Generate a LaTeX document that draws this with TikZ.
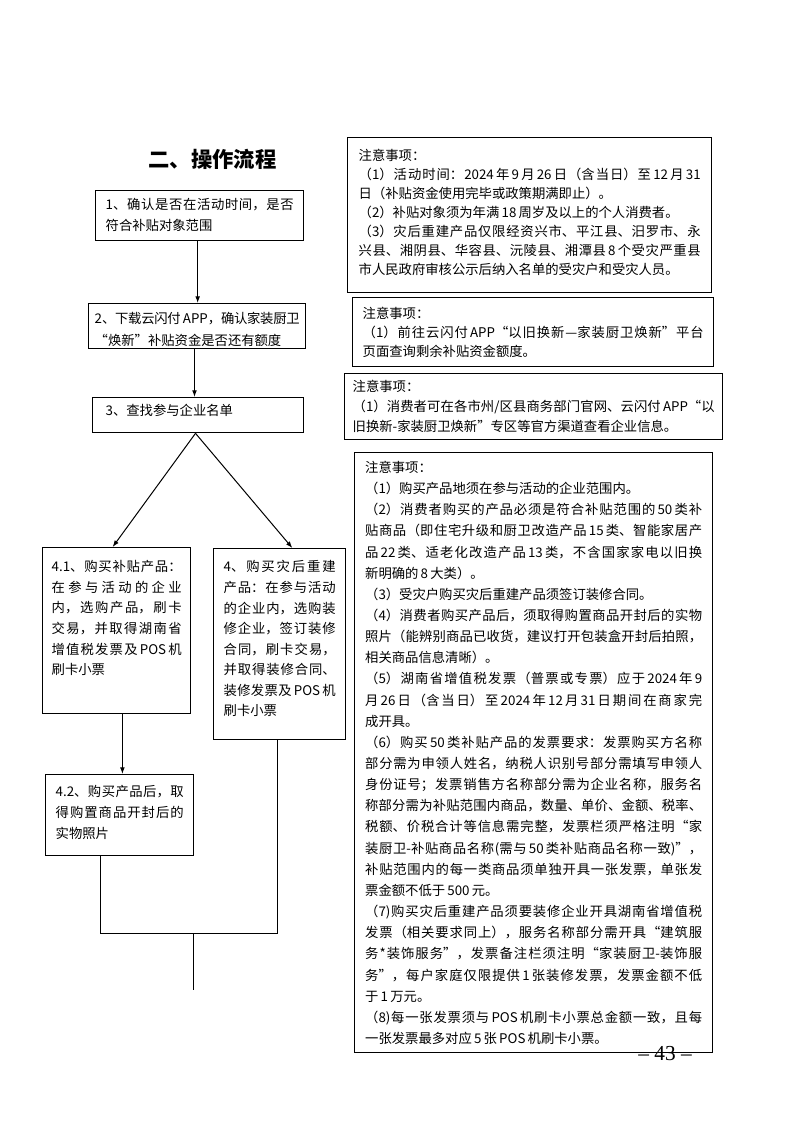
\documentclass[tikz,border=0pt]{standalone}
\usepackage{fontspec}
\setmainfont{Noto Sans CJK SC}
\newfontfamily\pnfont{Liberation Serif}
\usetikzlibrary{arrows.meta}
\XeTeXlinebreaklocale "zh"
\XeTeXlinebreakskip=0pt plus 3pt minus 0.6pt
\tolerance=9999 \hbadness=10000 \vbadness=10000 \hfuzz=6pt \vfuzz=20pt
\newcommand\btxt[4]{\parbox[t][#2][t]{#1}{\fontsize{10pt}{#3}\selectfont #4}}
\tikzset{
  box/.style={draw, line width=1pt, anchor=north west, inner sep=0pt},
  arr/.style={-{Latex[length=5pt,width=3.6pt]}, line width=0.75pt},
  conn/.style={line width=0.75pt}
}
\begin{document}
\begin{tikzpicture}[x=0.75pt,y=-0.75pt]
\useasboundingbox (0,0) rectangle (793,1122);

\node[inner sep=0pt] (title) at (212.5,159) {\fontsize{16pt}{16pt}\selectfont\bfseries 二、操作流程};

% left column
\node[box, inner xsep=7.5pt, inner ysep=6pt] (b1) at (95,190)
 {\btxt{141pt}{25.5pt}{15.75pt}{1、确认是否在活动时间，是否\linebreak 符合补贴对象范围}};
\node[box, inner xsep=4.5pt, inner ysep=6.75pt] (b2) at (88,303)
 {\btxt{153.75pt}{20.25pt}{16pt}{2、下载云闪付\,APP，确认家装厨卫\linebreak “焕新”补贴资金是否还有额度}};
\node[box, inner xsep=9.75pt, inner ysep=5.25pt] (b3) at (92,397)
 {\btxt{138.75pt}{15.75pt}{15pt}{3、查找参与企业名单}};
\node[box, inner xsep=6.75pt, inner ysep=9.75pt] (b41) at (42,547)
 {\btxt{97.5pt}{105pt}{15.4pt}{4.1、购买补贴产品：\linebreak 在参与活动的企业\linebreak 内，选购产品，刷卡\linebreak 交易，并取得湖南省\linebreak 增值税发票及\,POS\,机\linebreak 刷卡小票}};
\node[box, inner xsep=7.5pt, inner ysep=9pt] (b4) at (213,548)
 {\btxt{84pt}{125.25pt}{15.4pt}{4、购买灾后重建\linebreak 产品：在参与活动\linebreak 的企业内，选购装\linebreak 修企业，签订装修\linebreak 合同，刷卡交易，\linebreak 并取得装修合同、\linebreak 装修发票及\,POS\,机\linebreak 刷卡小票}};
\node[box, inner xsep=7.5pt, inner ysep=8.25pt] (b42) at (45,774)
 {\btxt{96pt}{44.25pt}{15.5pt}{4.2、购买产品后，取\linebreak 得购置商品开封后的\linebreak 实物照片}};

% notes
\node[box, inner xsep=8.25pt, inner ysep=8.625pt] (n1) at (347,137)
 {\btxt{256.5pt}{99pt}{14.25pt}{注意事项：\par
 （1）活动时间：2024\,年\,9\,月\,26\,日（含当日）至\,12\,月\,31\linebreak 日（补贴资金使用完毕或政策期满即止）。\par
 （2）补贴对象须为年满\,18\,周岁及以上的个人消费者。\par
 （3）灾后重建产品仅限经资兴市、平江县、汨罗市、永\linebreak 兴县、湘阴县、华容县、沅陵县、湘潭县\,8\,个受灾严重县\linebreak 市人民政府审核公示后纳入名单的受灾户和受灾人员。}};
\node[box, inner xsep=7.5pt, inner ysep=7.5pt] (n2) at (352,297)
 {\btxt{255.75pt}{36.75pt}{13.9pt}{注意事项：\par
 （1）前往云闪付\,APP“以旧换新—家装厨卫焕新”平台\linebreak 页面查询剩余补贴资金额度。}};
\node[box, inner xsep=6pt, inner ysep=4.875pt] (n3) at (344,373)
 {\btxt{271.5pt}{39.75pt}{15pt}{注意事项：\par
 （1）消费者可在各市州/区县商务部门官网、云闪付\,APP“以\linebreak 旧换新-家装厨卫焕新”专区等官方渠道查看企业信息。}};
\node[box, inner xsep=7.875pt, inner ysep=6.375pt] (n4) at (354,452)
 {\btxt{252.75pt}{437.25pt}{15.86pt}{注意事项：\par
 （1）购买产品地须在参与活动的企业范围内。\par
 （2）消费者购买的产品必须是符合补贴范围的\,50\,类补\linebreak 贴商品（即住宅升级和厨卫改造产品\,15\,类、智能家居产\linebreak 品\,22\,类、适老化改造产品\,13\,类，不含国家家电以旧换\linebreak 新明确的\,8\,大类）。\par
 （3）受灾户购买灾后重建产品须签订装修合同。\par
 （4）消费者购买产品后，须取得购置商品开封后的实物\linebreak 照片（能辨别商品已收货，建议打开包装盒开封后拍照，\linebreak 相关商品信息清晰）。\par
 （5）湖南省增值税发票（普票或专票）应于\,2024\,年\,9\linebreak 月\,26\,日（含当日）至\,2024\,年\,12\,月\,31\,日期间在商家完\linebreak 成开具。\par
 （6）购买\,50\,类补贴产品的发票要求：发票购买方名称\linebreak 部分需为申领人姓名，纳税人识别号部分需填写申领人\linebreak 身份证号；发票销售方名称部分需为企业名称，服务名\linebreak 称部分需为补贴范围内商品，数量、单价、金额、税率、\linebreak 税额、价税合计等信息需完整，发票栏须严格注明“家\linebreak 装厨卫-补贴商品名称(需与\,50\,类补贴商品名称一致)”，\linebreak 补贴范围内的每一类商品须单独开具一张发票，单张发\linebreak 票金额不低于\,500\,元。\par
 （7)购买灾后重建产品须要装修企业开具湖南省增值税\linebreak 发票（相关要求同上），服务名称部分需开具“建筑服\linebreak 务*装饰服务”，发票备注栏须注明“家装厨卫-装饰服\linebreak 务”，每户家庭仅限提供\,1\,张装修发票，发票金额不低\linebreak 于\,1\,万元。\par
 （8)每一张发票须与\,POS\,机刷卡小票总金额一致，且每\linebreak 一张发票最多对应\,5\,张\,POS\,机刷卡小票。}};

\node[inner sep=0pt] (pg) at (665,1054) {\pnfont\fontsize{16pt}{16pt}\selectfont – 43 –};

% connectors
\draw[arr] ([xshift=-1.5pt]b1.south) -- ([xshift=-1.5pt]b1.south |- b2.north);
\draw[arr] ([xshift=-2pt]b2.south) -- ([xshift=-2pt]b2.south |- b3.north);
\draw[arr] ([xshift=-2pt]b3.south) -- ([xshift=-3pt]b41.north);
\draw[arr] ([xshift=-2pt]b3.south) -- ([xshift=9.5pt]b4.north);
\draw[arr] ([xshift=4.3pt]b41.south) -- ([xshift=4.3pt]b41.south |- b42.north);
\coordinate (jm) at (193,933);
\coordinate (je) at (193,990);
\draw[conn] ([xshift=-14.25pt]b42.south) |- ([xshift=-1.5pt]b4.south |- jm) -- ([xshift=-1.5pt]b4.south);
\draw[conn] (jm) -- (je);
\end{tikzpicture}
\end{document}
